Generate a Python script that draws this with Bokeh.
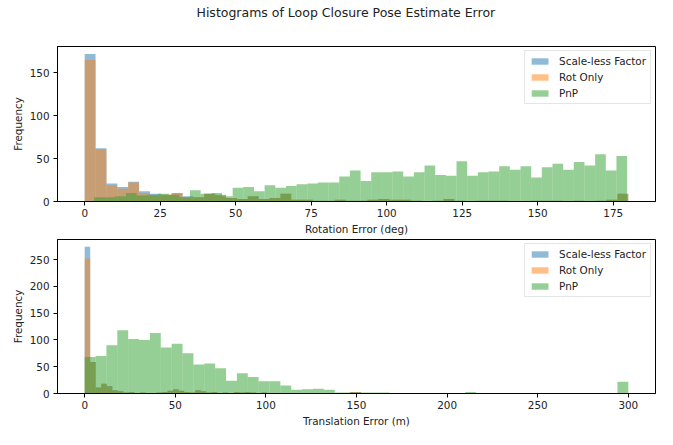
import numpy as np
from bokeh.plotting import figure
from bokeh.layouts import column
from bokeh.models import Legend, LegendItem, Range1d
from bokeh.embed import file_html
from bokeh.resources import INLINE

FONT = "DejaVu Sans"

# ---------------- data ----------------
title_text = "Histograms of Loop Closure Pose Estimate Error"
series_names = ["Scale-less Factor", "Rot Only", "PnP"]
series_colors = ["#1f77b4", "#ff7f0e", "#2ca02c"]

# Rotation error histograms (deg), 50 bins each
rot_scaleless_range = (0.0, 180.0)
rot_scaleless = [172, 62, 21, 17, 23, 12, 9, 8, 10, 6,
                 5, 9, 8, 4, 3, 6, 3, 4, 9, 2,
                 2, 1, 1, 2, 1, 1, 2, 3, 2, 2,
                 1, 0, 1, 3, 1, 0, 1, 1, 1, 0,
                 0, 1, 1, 1, 0, 1, 0, 1, 2, 9]
rot_rotonly_range = (0.0, 180.0)
rot_rotonly = [165, 61, 19, 15, 22, 10, 7, 8, 10, 5,
               5, 9, 7, 4, 3, 6, 3, 4, 9, 2,
               2, 1, 1, 2, 1, 1, 2, 3, 2, 2,
               1, 0, 1, 3, 1, 0, 1, 1, 1, 0,
               0, 1, 1, 1, 0, 1, 0, 1, 2, 9]
rot_pnp_range = (3.1, 179.6)
rot_pnp = [5, 5, 6, 10, 7, 8, 9, 8, 5, 13,
           9, 10, 6, 16, 17, 12, 19, 16, 18, 20,
           21, 22, 22, 29, 36, 24, 34, 34, 35, 29,
           34, 42, 31, 30, 47, 30, 34, 35, 41, 37,
           41, 28, 40, 44, 37, 46, 42, 55, 36, 53]

# Translation error histograms (m), 50 bins each
trans_scaleless_range = (0.0, 152.5)
trans_scaleless = [274, 59, 11, 18, 14, 6, 4, 2, 3, 1,
                   2, 1, 1, 2, 3, 5, 8, 5, 3, 2,
                   6, 4, 2, 3, 1, 2, 1, 3, 2, 3,
                   2, 1, 2, 1, 1, 1, 1, 0, 1, 1,
                   0, 1, 0, 1, 0, 1, 0, 1, 3, 3]
trans_rotonly_range = (0.0, 152.5)
trans_rotonly = [252, 59, 11, 18, 13, 6, 4, 2, 3, 1,
                 2, 1, 1, 2, 3, 5, 8, 5, 3, 2,
                 6, 4, 2, 3, 1, 2, 1, 3, 2, 3,
                 2, 1, 2, 1, 1, 1, 1, 0, 1, 1,
                 0, 1, 0, 1, 0, 1, 0, 1, 3, 3]
trans_pnp_range = (0.0, 300.0)
trans_pnp = [68, 70, 90, 118, 102, 100, 113, 86, 93, 75,
             54, 56, 47, 24, 38, 31, 23, 23, 15, 7,
             8, 9, 7, 2, 2, 2, 2, 2, 1, 1,
             1, 0, 0, 0, 0, 3, 0, 0, 0, 0,
             0, 0, 0, 0, 0, 0, 0, 0, 1, 22]

rot_xticks = [0, 25, 50, 75, 100, 125, 150, 175]
rot_yticks = [0, 50, 100, 150]
trans_xticks = [0, 50, 100, 150, 200, 250, 300]
trans_yticks = [0, 50, 100, 150, 200, 250]
rot_xlabel = "Rotation Error (deg)"
trans_xlabel = "Translation Error (m)"
ylabel = "Frequency"

TXT = "10.4px"


def style_axes(p, xticks, yticks, xlabel):
    p.xgrid.visible = False
    p.ygrid.visible = False
    p.outline_line_color = "black"
    p.outline_line_width = 1
    p.xaxis.ticker = xticks
    p.yaxis.ticker = yticks
    p.xaxis.axis_label = xlabel
    p.yaxis.axis_label = ylabel
    for ax in (p.xaxis, p.yaxis):
        ax.axis_line_color = "black"
        ax.major_tick_line_color = "black"
        ax.major_tick_out = 4
        ax.major_tick_in = 0
        ax.minor_tick_out = 0
        ax.minor_tick_in = 0
        ax.major_label_text_font = FONT
        ax.major_label_text_font_size = TXT
        ax.major_label_text_color = "#222222"
        ax.axis_label_text_font = FONT
        ax.axis_label_text_font_size = TXT
        ax.axis_label_text_font_style = "normal"
        ax.axis_label_text_color = "#222222"
    p.xaxis.major_label_standoff = 3
    p.yaxis.major_label_standoff = 4
    p.xaxis.axis_label_standoff = 3
    p.yaxis.axis_label_standoff = 3


def add_hists(p, hists):
    rends = []
    for (counts, rng), color in zip(hists, series_colors):
        edges = np.linspace(rng[0], rng[1], len(counts) + 1)
        r = p.quad(left=edges[:-1], right=edges[1:], bottom=0, top=counts,
                   fill_color=color, fill_alpha=0.5, line_color=None)
        rends.append(r)
    legend = Legend(items=[LegendItem(label=n, renderers=[r]) for n, r in zip(series_names, rends)],
                    location="top_right")
    legend.margin = 4
    legend.padding = 4
    legend.spacing = 4
    legend.label_height = 12
    legend.glyph_height = 8
    legend.glyph_width = 21
    legend.label_standoff = 9
    legend.label_text_font = FONT
    legend.label_text_font_size = TXT
    legend.label_text_color = "#222222"
    legend.border_line_color = "#cccccc"
    legend.border_line_width = 1
    legend.background_fill_alpha = 0.8
    p.add_layout(legend)


def xrange_for(hists):
    lo = min(r[0] for _, r in hists)
    hi = max(r[1] for _, r in hists)
    pad = 0.05 * (hi - lo)
    return Range1d(lo - pad, hi + pad)


def yrange_for(hists):
    hi = max(max(c) for c, _ in hists)
    return Range1d(0, hi * 1.05)


rot_hists = [(rot_scaleless, rot_scaleless_range), (rot_rotonly, rot_rotonly_range), (rot_pnp, rot_pnp_range)]
trans_hists = [(trans_scaleless, trans_scaleless_range), (trans_rotonly, trans_rotonly_range), (trans_pnp, trans_pnp_range)]

# title strip (figure with only a title)
pt = figure(width=657, height=30, output_backend="svg", toolbar_location=None,
            x_range=Range1d(0, 1), y_range=Range1d(0, 1),
            min_border_left=57, min_border_right=2, min_border_top=0, min_border_bottom=0,
            title=title_text)
pt.axis.visible = False
pt.grid.visible = False
pt.outline_line_color = None
pt.title.text_font = FONT
pt.title.text_font_size = "12.5px"
pt.title.text_font_style = "normal"
pt.title.text_color = "#222222"
pt.title.align = "left"
pt.title.standoff = 4
pt.title.offset = 139

p1 = figure(width=657, height=207, output_backend="svg", toolbar_location=None,
            x_range=xrange_for(rot_hists), y_range=yrange_for(rot_hists),
            min_border_left=57, min_border_right=2, min_border_top=16, min_border_bottom=34)
style_axes(p1, rot_xticks, rot_yticks, rot_xlabel)
add_hists(p1, rot_hists)

p2 = figure(width=657, height=192, output_backend="svg", toolbar_location=None,
            x_range=xrange_for(trans_hists), y_range=yrange_for(trans_hists),
            min_border_left=57, min_border_right=2, min_border_top=2, min_border_bottom=35)
style_axes(p2, trans_xticks, trans_yticks, trans_xlabel)
add_hists(p2, trans_hists)

layout = column(pt, p1, p2, spacing=0)
open("out.html", "w").write(file_html(layout, INLINE))
